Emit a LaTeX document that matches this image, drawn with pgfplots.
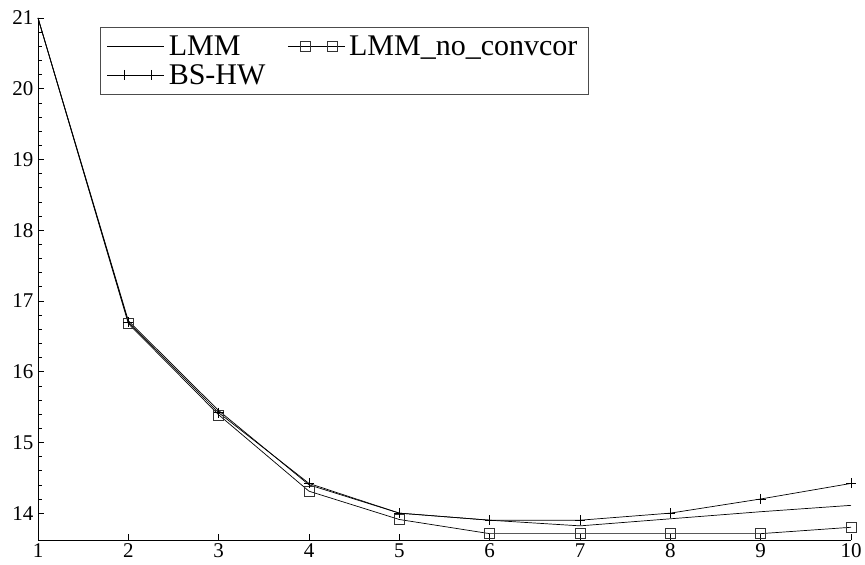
\documentclass[border=0pt]{standalone}
\usepackage{fontspec}
\setmainfont{Liberation Serif}
\usepackage{pgfplots}
\pgfplotsset{compat=1.18}
\begin{document}
\begin{tikzpicture}
\begin{axis}[name=ax,
  scale only axis, width=813pt, height=522pt,
  xmin=1, xmax=10, ymin=13.62, ymax=21,
  axis x line*=bottom, axis y line*=left,
  axis line style={line width=1pt, -},
  tick align=inside,
  xtick={1,...,10}, ytick={14,...,21},
  minor y tick num=4,
  major tick length=6pt, minor tick length=3.5pt,
  tick style={line width=0.6pt, black},
  /pgf/number format/assume math mode=true,
  tick label style={font=\fontsize{21}{21}\selectfont},
  yticklabel style={xshift=-1pt},
  clip=false,
  legend columns=2,
  legend cell align=left,
  legend style={at={(0.076,0.983)}, anchor=north west, font=\fontsize{30}{30}\selectfont,
    draw=black!70, line width=0.6pt, inner xsep=7pt, inner ysep=7pt, row sep=3pt,
    /tikz/every even column/.append style={column sep=18pt},
    nodes={inner xsep=4pt}},
  legend image code/.code={\draw[#1, mark phase=1, mark repeat=1] (0pt,0pt) -- (57pt,0pt) plot coordinates {(17pt,0pt) (44pt,0pt)};},
]
\addplot[black, line width=0.7pt, mark=none] coordinates {
(1,21) (2,16.72) (3,15.45) (4,14.40) (5,14.0) (6,13.9) (7,13.82) (8,13.92) (9,14.02) (10,14.11)};
\addlegendentry{LMM}
\addplot[black, line width=0.7pt, mark=square, mark size=5pt, mark phase=2, mark repeat=1, mark options={black!80, line width=0.6pt}] coordinates {
(1,21) (2,16.68) (3,15.39) (4,14.31) (5,13.91) (6,13.71) (7,13.71) (8,13.71) (9,13.71) (10,13.8)};
\addlegendentry{LMM\_no\_convcor\hspace{14pt}}
\addplot[black, line width=0.7pt, mark=+, mark size=5pt, mark phase=2, mark repeat=1, mark options={line width=0.6pt}] coordinates {
(1,21) (2,16.7) (3,15.42) (4,14.42) (5,14.0) (6,13.9) (7,13.9) (8,14.0) (9,14.2) (10,14.42)};
\addlegendentry{BS-HW}
\end{axis}
\path ([shift={(-38pt,-24pt)}]ax.south west) rectangle ([shift={(14pt,18pt)}]ax.north east);
\end{tikzpicture}
\end{document}
